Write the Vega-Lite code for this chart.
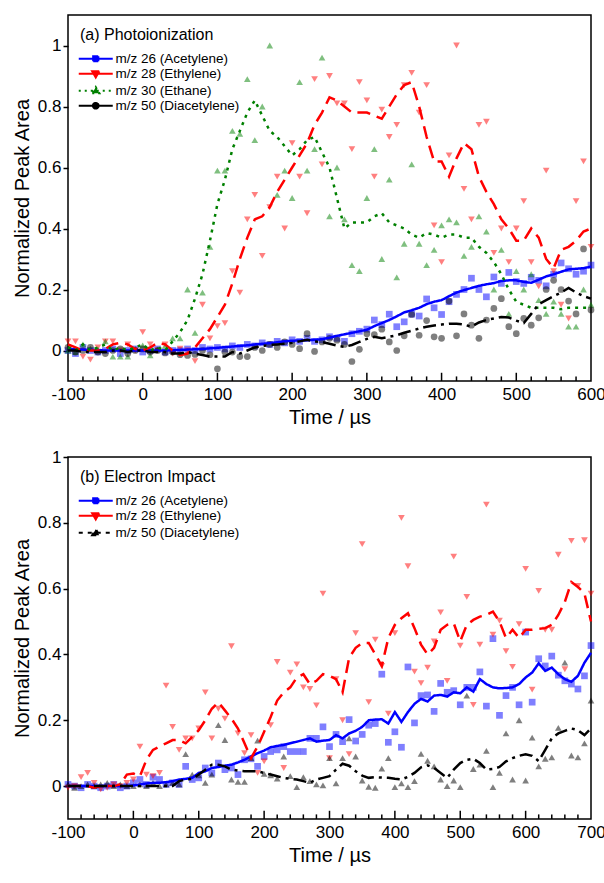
{
"$schema": "https://vega.github.io/schema/vega-lite/v6.json",
"padding": {"left": 11, "top": 14, "right": 0, "bottom": 0},
"config": {
  "font": "Liberation Sans",
  "view": {"stroke": "black", "strokeWidth": 1.5},
  "axis": {"grid": false, "domain": false, "labelFont": "Liberation Sans", "labelFontSize": 17, "labelColor": "black", "titleFont": "Liberation Sans", "titleFontSize": 20, "titleFontWeight": "normal", "titleColor": "black", "tickColor": "black", "tickWidth": 1.5},
  "legend": {"titleFont": "Liberation Sans", "titleFontSize": 16, "titleFontWeight": "normal", "titleColor": "black", "labelFont": "Liberation Sans", "labelFontSize": 13.5, "labelColor": "black", "symbolSize": 100, "symbolStrokeWidth": 2.2, "symbolOpacity": 1, "symbolOffset": 9, "labelOffset": 13, "rowPadding": 0, "titlePadding": 9, "orient": "top-left", "offset": 12, "padding": 0}
},
"datasets": {
"a_pts": [
{"t":-100,"ac":0,"et":0.03,"ea":0,"di":0.01},
{"t":-90,"ac":-0.01,"et":0.03,"ea":-0.005,"di":-0.005},
{"t":-80,"ac":0.01,"et":-0.02,"ea":0.02,"di":0},
{"t":-70,"ac":0,"et":-0.03,"ea":0.006,"di":0.01},
{"t":-60,"ac":-0.005,"et":0.01,"ea":0.004,"di":-0.005},
{"t":-50,"ac":0,"et":0.03,"ea":0.03,"di":-0.01},
{"t":-40,"ac":0.005,"et":0.03,"ea":-0.02,"di":0},
{"t":-30,"ac":-0.01,"et":0,"ea":-0.02,"di":0.005},
{"t":-20,"ac":0,"et":0.02,"ea":-0.02,"di":-0.01},
{"t":-10,"ac":0.005,"et":0,"ea":0.006,"di":0},
{"t":0,"ac":-0.005,"et":0.06,"ea":0.017,"di":0.005},
{"t":10,"ac":0,"et":0.02,"ea":-0.016,"di":-0.005},
{"t":20,"ac":0.005,"et":0,"ea":0.004,"di":0},
{"t":30,"ac":-0.005,"et":0.02,"ea":0.015,"di":-0.008},
{"t":40,"ac":0,"et":-0.01,"ea":0.04,"di":-0.005},
{"t":50,"ac":0,"et":0.006,"ea":0.04,"di":-0.014},
{"t":60,"ac":0.005,"et":0,"ea":0.2,"di":-0.016},
{"t":70,"ac":0,"et":-0.035,"ea":0.058,"di":-0.013},
{"t":80,"ac":0.01,"et":0.15,"ea":0.19,"di":0},
{"t":90,"ac":0.005,"et":0.04,"ea":0.34,"di":-0.014},
{"t":100,"ac":0.01,"et":0.08,"ea":0.59,"di":-0.06},
{"t":110,"ac":0.005,"et":0.09,"ea":0.59,"di":-0.005},
{"t":120,"ac":0.015,"et":0.26,"ea":0.72,"di":-0.005},
{"t":130,"ac":0.01,"et":0.19,"ea":0.71,"di":-0.02},
{"t":140,"ac":0.02,"et":0.43,"ea":0.89,"di":-0.02},
{"t":150,"ac":0.015,"et":0.51,"ea":0.69,"di":0.01},
{"t":160,"ac":0.025,"et":0.31,"ea":0.8,"di":0},
{"t":170,"ac":0.02,"et":0.47,"ea":1.0,"di":0.02},
{"t":180,"ac":0.03,"et":0.57,"ea":0.51,"di":0.01},
{"t":190,"ac":0.025,"et":0.4,"ea":0.59,"di":0.028},
{"t":200,"ac":0.035,"et":0.68,"ea":0.5,"di":0.02},
{"t":210,"ac":0.03,"et":0.57,"ea":0.88,"di":0.006},
{"t":220,"ac":0.04,"et":0.45,"ea":0.59,"di":0.055},
{"t":230,"ac":0.03,"et":0.89,"ea":0.66,"di":-0.003},
{"t":240,"ac":0.035,"et":0.61,"ea":0.96,"di":0.028},
{"t":250,"ac":0.045,"et":0.9,"ea":0.44,"di":0.04},
{"t":260,"ac":0.04,"et":0.81,"ea":0.6,"di":0.034},
{"t":270,"ac":0.03,"et":0.81,"ea":0.43,"di":0.02},
{"t":280,"ac":0.055,"et":0.66,"ea":0.28,"di":-0.036},
{"t":290,"ac":0.063,"et":0.88,"ea":0.26,"di":0.004},
{"t":300,"ac":0.07,"et":0.82,"ea":0.5,"di":0.055},
{"t":310,"ac":0.1,"et":0.57,"ea":0.66,"di":0.052},
{"t":320,"ac":0.085,"et":0.79,"ea":0.3,"di":0.07},
{"t":330,"ac":0.119,"et":0.7,"ea":0.56,"di":0.028},
{"t":340,"ac":0.078,"et":0.74,"ea":0.24,"di":0},
{"t":350,"ac":0.094,"et":0.87,"ea":0.35,"di":0.048},
{"t":360,"ac":0.119,"et":0.91,"ea":0.61,"di":0.118},
{"t":370,"ac":0.113,"et":0.78,"ea":0.35,"di":0.05},
{"t":380,"ac":0.169,"et":0.87,"ea":0.28,"di":0.098},
{"t":390,"ac":0.14,"et":0.41,"ea":0.33,"di":0.045},
{"t":400,"ac":0.118,"et":0.29,"ea":0.41,"di":0.04},
{"t":410,"ac":0.16,"et":0.64,"ea":0.43,"di":0.162},
{"t":420,"ac":0.184,"et":1.0,"ea":0.42,"di":0.048},
{"t":430,"ac":0.2,"et":0.53,"ea":0.31,"di":0.12},
{"t":440,"ac":0.237,"et":0.43,"ea":0.34,"di":0.083},
{"t":450,"ac":0.2,"et":0.74,"ea":0.44,"di":0.04},
{"t":460,"ac":0.176,"et":0.75,"ea":0.39,"di":0.1},
{"t":470,"ac":0.241,"et":0.32,"ea":0.2,"di":0.138},
{"t":480,"ac":0.22,"et":0.4,"ea":0.33,"di":0.17},
{"t":490,"ac":0.256,"et":0.29,"ea":0.12,"di":0.078},
{"t":500,"ac":0.226,"et":0.4,"ea":0.26,"di":0.055},
{"t":510,"ac":0.22,"et":0.49,"ea":0.2,"di":0.105},
{"t":520,"ac":0.24,"et":0.29,"ea":0.25,"di":0.083},
{"t":530,"ac":0.23,"et":0.21,"ea":0.165,"di":0.107},
{"t":540,"ac":0.212,"et":0.59,"ea":0.12,"di":0.2},
{"t":550,"ac":0.25,"et":0.26,"ea":0.16,"di":0.23},
{"t":560,"ac":0.287,"et":0.15,"ea":0.12,"di":0.2},
{"t":570,"ac":0.268,"et":0.105,"ea":0.078,"di":0.162},
{"t":580,"ac":0.25,"et":0.49,"ea":0.078,"di":0.12},
{"t":590,"ac":0.26,"et":0.62,"ea":0.2,"di":0.333},
{"t":600,"ac":0.28,"et":0.34,"ea":0.15,"di":0.133}
],
"a_line": [
{"t":-100,"ac":0.005,"et":0.02,"ea":0.01,"di":0},
{"t":-90,"ac":0.004,"et":0.01,"ea":0,"di":0},
{"t":-80,"ac":0.003,"et":0,"ea":0.02,"di":-0.005},
{"t":-70,"ac":0.002,"et":0,"ea":0,"di":-0.005},
{"t":-60,"ac":0.001,"et":0,"ea":0.01,"di":-0.005},
{"t":-50,"ac":0,"et":0.005,"ea":0.02,"di":-0.005},
{"t":-40,"ac":0,"et":0.02,"ea":0,"di":0},
{"t":-30,"ac":0,"et":0.025,"ea":0.01,"di":0},
{"t":-20,"ac":0,"et":0.02,"ea":0,"di":-0.005},
{"t":-10,"ac":0,"et":0.005,"ea":0.01,"di":0},
{"t":0,"ac":0,"et":0,"ea":0.02,"di":0},
{"t":10,"ac":0,"et":0.01,"ea":0,"di":-0.005},
{"t":20,"ac":0,"et":0.025,"ea":0.01,"di":-0.005},
{"t":30,"ac":0,"et":0.02,"ea":0,"di":-0.005},
{"t":40,"ac":0.001,"et":0,"ea":0.03,"di":-0.01},
{"t":50,"ac":0.002,"et":-0.015,"ea":0.06,"di":-0.01},
{"t":60,"ac":0.003,"et":-0.01,"ea":0.1,"di":-0.005},
{"t":70,"ac":0.004,"et":0.01,"ea":0.17,"di":-0.01},
{"t":80,"ac":0.005,"et":0.04,"ea":0.25,"di":-0.015},
{"t":90,"ac":0.007,"et":0.07,"ea":0.36,"di":-0.02},
{"t":100,"ac":0.009,"et":0.11,"ea":0.48,"di":-0.02},
{"t":110,"ac":0.011,"et":0.15,"ea":0.56,"di":-0.02},
{"t":120,"ac":0.013,"et":0.22,"ea":0.66,"di":-0.005},
{"t":130,"ac":0.015,"et":0.3,"ea":0.72,"di":-0.01},
{"t":140,"ac":0.017,"et":0.37,"ea":0.78,"di":0},
{"t":150,"ac":0.02,"et":0.43,"ea":0.82,"di":0.01},
{"t":160,"ac":0.022,"et":0.44,"ea":0.77,"di":0.015},
{"t":170,"ac":0.024,"et":0.47,"ea":0.72,"di":0.018},
{"t":180,"ac":0.027,"et":0.52,"ea":0.7,"di":0.02},
{"t":190,"ac":0.03,"et":0.56,"ea":0.67,"di":0.022},
{"t":200,"ac":0.032,"et":0.6,"ea":0.64,"di":0.025},
{"t":210,"ac":0.033,"et":0.64,"ea":0.66,"di":0.03},
{"t":220,"ac":0.034,"et":0.68,"ea":0.69,"di":0.035},
{"t":230,"ac":0.035,"et":0.74,"ea":0.7,"di":0.03},
{"t":240,"ac":0.037,"et":0.78,"ea":0.65,"di":0.028},
{"t":250,"ac":0.042,"et":0.83,"ea":0.6,"di":0.022},
{"t":260,"ac":0.048,"et":0.82,"ea":0.5,"di":0.016},
{"t":270,"ac":0.053,"et":0.8,"ea":0.4,"di":0.012},
{"t":280,"ac":0.058,"et":0.78,"ea":0.42,"di":0.018},
{"t":290,"ac":0.063,"et":0.78,"ea":0.42,"di":0.028},
{"t":300,"ac":0.068,"et":0.78,"ea":0.42,"di":0.038},
{"t":310,"ac":0.08,"et":0.77,"ea":0.44,"di":0.045},
{"t":320,"ac":0.09,"et":0.76,"ea":0.45,"di":0.04},
{"t":330,"ac":0.1,"et":0.8,"ea":0.42,"di":0.045},
{"t":340,"ac":0.112,"et":0.84,"ea":0.41,"di":0.05},
{"t":350,"ac":0.125,"et":0.87,"ea":0.4,"di":0.058},
{"t":360,"ac":0.132,"et":0.88,"ea":0.38,"di":0.065},
{"t":370,"ac":0.14,"et":0.8,"ea":0.37,"di":0.072},
{"t":380,"ac":0.152,"et":0.7,"ea":0.385,"di":0.078},
{"t":390,"ac":0.16,"et":0.62,"ea":0.38,"di":0.082},
{"t":400,"ac":0.165,"et":0.62,"ea":0.37,"di":0.085},
{"t":410,"ac":0.178,"et":0.57,"ea":0.38,"di":0.088},
{"t":420,"ac":0.19,"et":0.63,"ea":0.38,"di":0.088},
{"t":430,"ac":0.198,"et":0.68,"ea":0.37,"di":0.085},
{"t":440,"ac":0.205,"et":0.66,"ea":0.37,"di":0.078},
{"t":450,"ac":0.212,"et":0.57,"ea":0.34,"di":0.092},
{"t":460,"ac":0.217,"et":0.52,"ea":0.32,"di":0.1},
{"t":470,"ac":0.221,"et":0.48,"ea":0.29,"di":0.105},
{"t":480,"ac":0.228,"et":0.43,"ea":0.25,"di":0.11},
{"t":490,"ac":0.23,"et":0.4,"ea":0.2,"di":0.108},
{"t":500,"ac":0.23,"et":0.36,"ea":0.16,"di":0.098},
{"t":510,"ac":0.225,"et":0.36,"ea":0.15,"di":0.09},
{"t":520,"ac":0.222,"et":0.4,"ea":0.14,"di":0.12},
{"t":530,"ac":0.232,"et":0.37,"ea":0.14,"di":0.152},
{"t":540,"ac":0.243,"et":0.3,"ea":0.14,"di":0.165},
{"t":550,"ac":0.25,"et":0.27,"ea":0.14,"di":0.178},
{"t":560,"ac":0.258,"et":0.33,"ea":0.135,"di":0.19},
{"t":570,"ac":0.266,"et":0.34,"ea":0.14,"di":0.205},
{"t":580,"ac":0.268,"et":0.36,"ea":0.14,"di":0.19},
{"t":590,"ac":0.27,"et":0.39,"ea":0.14,"di":0.178},
{"t":600,"ac":0.275,"et":0.4,"ea":0.14,"di":0.17}
],
"b_pts": [
{"t":-100,"ac":0.005,"et":-0.005,"di":0.005},
{"t":-90,"ac":0,"et":0,"di":-0.005},
{"t":-80,"ac":-0.005,"et":0.027,"di":0},
{"t":-70,"ac":0.005,"et":0.04,"di":0.005},
{"t":-60,"ac":0,"et":0.01,"di":0},
{"t":-50,"ac":-0.005,"et":-0.01,"di":0.005},
{"t":-40,"ac":0,"et":-0.005,"di":0.01},
{"t":-30,"ac":0.005,"et":0.005,"di":0},
{"t":-20,"ac":-0.005,"et":0,"di":0.005},
{"t":-10,"ac":0,"et":0.01,"di":0},
{"t":0,"ac":0.01,"et":0.02,"di":0},
{"t":10,"ac":0.02,"et":0.12,"di":0.005},
{"t":20,"ac":0.005,"et":0.035,"di":0},
{"t":30,"ac":0.027,"et":0.03,"di":0.01},
{"t":40,"ac":0.02,"et":0.04,"di":0},
{"t":50,"ac":0.005,"et":0.305,"di":0.005},
{"t":60,"ac":0.01,"et":0.18,"di":0.01},
{"t":70,"ac":0.005,"et":0.11,"di":0.005},
{"t":80,"ac":0.06,"et":0.145,"di":0.097},
{"t":90,"ac":0.02,"et":0.145,"di":0.035},
{"t":100,"ac":0.025,"et":0.175,"di":0.033},
{"t":110,"ac":0.055,"et":0.285,"di":0.01},
{"t":120,"ac":0.04,"et":0.145,"di":0.035},
{"t":130,"ac":0.07,"et":0.235,"di":0.185},
{"t":140,"ac":0.05,"et":0.205,"di":0.14},
{"t":150,"ac":0.055,"et":0.425,"di":0.02},
{"t":160,"ac":0.035,"et":0.16,"di":0.013},
{"t":170,"ac":0.08,"et":0.1,"di":0.013},
{"t":180,"ac":0.083,"et":0.155,"di":0.085},
{"t":190,"ac":0.06,"et":0.04,"di":0.138},
{"t":200,"ac":0.09,"et":0.075,"di":0.037},
{"t":210,"ac":0.105,"et":0.185,"di":0.033},
{"t":220,"ac":0.11,"et":0.377,"di":0.023},
{"t":230,"ac":0.12,"et":0.055,"di":0.09},
{"t":240,"ac":0.105,"et":0.345,"di":0.03},
{"t":250,"ac":0.105,"et":0.37,"di":-0.003},
{"t":260,"ac":0.105,"et":0.3,"di":0.027},
{"t":270,"ac":0.145,"et":0.295,"di":0.015},
{"t":280,"ac":0.145,"et":0.245,"di":0.005},
{"t":290,"ac":0.18,"et":0.585,"di":0.002},
{"t":300,"ac":0.12,"et":0.085,"di":0.085},
{"t":310,"ac":0.157,"et":0.325,"di":0.008},
{"t":320,"ac":0.135,"et":0.2,"di":0.085},
{"t":330,"ac":0.202,"et":0.097,"di":0.145},
{"t":340,"ac":0.137,"et":0.465,"di":0.09},
{"t":350,"ac":0.157,"et":0.735,"di":0.017},
{"t":360,"ac":0.185,"et":0.255,"di":-0.002},
{"t":370,"ac":0.19,"et":0.445,"di":-0.005},
{"t":380,"ac":0.34,"et":0.365,"di":0.053},
{"t":390,"ac":0.133,"et":0.22,"di":0.085},
{"t":400,"ac":0.165,"et":0.465,"di":-0.003},
{"t":410,"ac":0.118,"et":0.815,"di":0.008},
{"t":420,"ac":0.362,"et":0.668,"di":-0.003},
{"t":430,"ac":0.192,"et":0.348,"di":0.015},
{"t":440,"ac":0.275,"et":0.313,"di":0.098},
{"t":450,"ac":0.277,"et":0.36,"di":0.077},
{"t":460,"ac":0.227,"et":0.44,"di":0.06},
{"t":470,"ac":0.312,"et":0.528,"di":0.02},
{"t":480,"ac":0.285,"et":0.32,"di":0},
{"t":490,"ac":0.29,"et":0.697,"di":0.017},
{"t":500,"ac":0.247,"et":0.427,"di":-0.003},
{"t":510,"ac":0.3,"et":0.575,"di":0.275},
{"t":520,"ac":0.3,"et":0.247,"di":0.052},
{"t":530,"ac":0.347,"et":0.43,"di":0.065},
{"t":540,"ac":0.243,"et":0.855,"di":0.107},
{"t":550,"ac":0.448,"et":0.46,"di":-0.003},
{"t":560,"ac":0.215,"et":0.503,"di":0.04},
{"t":570,"ac":0.275,"et":0.41,"di":0.16},
{"t":580,"ac":0.3,"et":0.362,"di":0.02},
{"t":590,"ac":0.247,"et":0.492,"di":0.2},
{"t":600,"ac":0.468,"et":0.66,"di":0.017},
{"t":610,"ac":0.255,"et":0.293,"di":0.147},
{"t":620,"ac":0.387,"et":0.593,"di":0.06},
{"t":630,"ac":0.365,"et":0.475,"di":0.083},
{"t":640,"ac":0.395,"et":0.475,"di":0.087},
{"t":650,"ac":0.337,"et":0.703,"di":0.177},
{"t":660,"ac":0.32,"et":0.355,"di":0.375},
{"t":670,"ac":0.31,"et":0.745,"di":0.093},
{"t":680,"ac":0.295,"et":0.608,"di":0.087},
{"t":690,"ac":0.335,"et":0.747,"di":0.13},
{"t":700,"ac":0.427,"et":0.585,"di":0.26}
],
"b_line": [
{"t":-100,"ac":0,"et":0,"di":0},
{"t":-90,"ac":0,"et":0,"di":0},
{"t":-80,"ac":0,"et":0,"di":0},
{"t":-70,"ac":0,"et":0,"di":0},
{"t":-60,"ac":0,"et":-0.005,"di":0},
{"t":-50,"ac":0,"et":0,"di":0},
{"t":-40,"ac":0,"et":0,"di":0},
{"t":-30,"ac":0,"et":0,"di":0},
{"t":-20,"ac":0,"et":0.005,"di":0},
{"t":-10,"ac":0,"et":0.035,"di":0},
{"t":0,"ac":0.002,"et":0.038,"di":0},
{"t":10,"ac":0.005,"et":0.03,"di":0},
{"t":20,"ac":0.008,"et":0.08,"di":0},
{"t":30,"ac":0.01,"et":0.11,"di":0},
{"t":40,"ac":0.01,"et":0.12,"di":0},
{"t":50,"ac":0.012,"et":0.13,"di":0},
{"t":60,"ac":0.015,"et":0.14,"di":0},
{"t":70,"ac":0.02,"et":0.14,"di":0.015},
{"t":80,"ac":0.022,"et":0.13,"di":0.02},
{"t":90,"ac":0.025,"et":0.15,"di":0.022},
{"t":100,"ac":0.04,"et":0.17,"di":0.035},
{"t":110,"ac":0.045,"et":0.2,"di":0.05},
{"t":120,"ac":0.055,"et":0.235,"di":0.065},
{"t":130,"ac":0.058,"et":0.255,"di":0.065},
{"t":140,"ac":0.062,"et":0.23,"di":0.06},
{"t":150,"ac":0.065,"et":0.205,"di":0.05},
{"t":160,"ac":0.072,"et":0.175,"di":0.047},
{"t":170,"ac":0.08,"et":0.13,"di":0.045},
{"t":180,"ac":0.09,"et":0.085,"di":0.045},
{"t":190,"ac":0.1,"et":0.12,"di":0.045},
{"t":200,"ac":0.108,"et":0.165,"di":0.04},
{"t":210,"ac":0.118,"et":0.21,"di":0.035},
{"t":220,"ac":0.122,"et":0.26,"di":0.03},
{"t":230,"ac":0.125,"et":0.285,"di":0.025},
{"t":240,"ac":0.13,"et":0.3,"di":0.022},
{"t":250,"ac":0.135,"et":0.33,"di":0.02},
{"t":260,"ac":0.14,"et":0.34,"di":0.015},
{"t":270,"ac":0.145,"et":0.31,"di":0.01},
{"t":280,"ac":0.135,"et":0.32,"di":0.02},
{"t":290,"ac":0.138,"et":0.34,"di":0.025},
{"t":300,"ac":0.14,"et":0.335,"di":0.03},
{"t":310,"ac":0.155,"et":0.325,"di":0.05},
{"t":320,"ac":0.145,"et":0.285,"di":0.068},
{"t":330,"ac":0.16,"et":0.39,"di":0.062},
{"t":340,"ac":0.168,"et":0.42,"di":0.045},
{"t":350,"ac":0.18,"et":0.435,"di":0.032},
{"t":360,"ac":0.2,"et":0.435,"di":0.025},
{"t":370,"ac":0.202,"et":0.4,"di":0.027},
{"t":380,"ac":0.203,"et":0.365,"di":0.026},
{"t":390,"ac":0.19,"et":0.45,"di":0.025},
{"t":400,"ac":0.225,"et":0.49,"di":0.022},
{"t":410,"ac":0.195,"et":0.51,"di":0.02},
{"t":420,"ac":0.225,"et":0.525,"di":0.028},
{"t":430,"ac":0.25,"et":0.48,"di":0.04},
{"t":440,"ac":0.265,"et":0.43,"di":0.057},
{"t":450,"ac":0.257,"et":0.4,"di":0.063},
{"t":460,"ac":0.275,"et":0.42,"di":0.055},
{"t":470,"ac":0.277,"et":0.475,"di":0.04},
{"t":480,"ac":0.272,"et":0.49,"di":0.025},
{"t":490,"ac":0.285,"et":0.495,"di":0.05},
{"t":500,"ac":0.282,"et":0.44,"di":0.07},
{"t":510,"ac":0.3,"et":0.49,"di":0.08},
{"t":520,"ac":0.287,"et":0.505,"di":0.083},
{"t":530,"ac":0.325,"et":0.515,"di":0.07},
{"t":540,"ac":0.31,"et":0.52,"di":0.05},
{"t":550,"ac":0.3,"et":0.53,"di":0.052},
{"t":560,"ac":0.297,"et":0.5,"di":0.058},
{"t":570,"ac":0.298,"et":0.45,"di":0.075},
{"t":580,"ac":0.3,"et":0.475,"di":0.085},
{"t":590,"ac":0.31,"et":0.45,"di":0.092},
{"t":600,"ac":0.33,"et":0.475,"di":0.097},
{"t":610,"ac":0.345,"et":0.475,"di":0.092},
{"t":620,"ac":0.373,"et":0.478,"di":0.076},
{"t":630,"ac":0.35,"et":0.48,"di":0.11},
{"t":640,"ac":0.36,"et":0.49,"di":0.145},
{"t":650,"ac":0.34,"et":0.52,"di":0.16},
{"t":660,"ac":0.325,"et":0.56,"di":0.168},
{"t":670,"ac":0.317,"et":0.62,"di":0.175},
{"t":680,"ac":0.335,"et":0.605,"di":0.17},
{"t":690,"ac":0.375,"et":0.585,"di":0.155},
{"t":700,"ac":0.405,"et":0.5,"di":0.175}
],
"a_major": [{"t":0},{"t":100},{"t":200},{"t":300},{"t":400},{"t":500}],
"a_minor": [{"t":-80},{"t":-60},{"t":-40},{"t":-20},{"t":20},{"t":40},{"t":60},{"t":80},{"t":120},{"t":140},{"t":160},{"t":180},{"t":220},{"t":240},{"t":260},{"t":280},{"t":320},{"t":340},{"t":360},{"t":380},{"t":420},{"t":440},{"t":460},{"t":480},{"t":520},{"t":540},{"t":560},{"t":580}],
"b_major": [{"t":0},{"t":100},{"t":200},{"t":300},{"t":400},{"t":500},{"t":600}],
"b_minor": [{"t":-80},{"t":-60},{"t":-40},{"t":-20},{"t":20},{"t":40},{"t":60},{"t":80},{"t":120},{"t":140},{"t":160},{"t":180},{"t":220},{"t":240},{"t":260},{"t":280},{"t":320},{"t":340},{"t":360},{"t":380},{"t":420},{"t":440},{"t":460},{"t":480},{"t":520},{"t":540},{"t":560},{"t":580},{"t":620},{"t":640},{"t":660},{"t":680}]
},
"spacing": 19,
"resolve": {"scale": {"color": "independent", "shape": "independent", "strokeDash": "independent", "fill": "independent", "stroke": "independent"}},
"vconcat": [
{
  "width": 523, "height": 366,
  "resolve": {"scale": {"shape": "independent", "strokeDash": "independent", "fill": "independent", "stroke": "independent"}, "axis": {"x": "independent"}},
  "layer": [
    {
      "data": {"name": "a_pts"},
      "transform": [{"fold": ["ac", "et", "ea", "di"], "as": ["s", "v"]}],
      "mark": {"type": "point", "filled": true, "opacity": 0.5, "size": 45},
      "encoding": {
        "x": {"field": "t", "type": "quantitative", "scale": {"domain": [-100, 600], "nice": false, "zero": false},
          "axis": {"orient": "bottom", "title": "Time / µs", "values": [-100, 0, 100, 200, 300, 400, 500, 600],
            "labelExpr": "'' + datum.value", "ticks": false, "tickSize": 0,
            "labelPadding": 5, "labelFlush": false, "labelOverlap": false, "titlePadding": 5}},
        "y": {"field": "v", "type": "quantitative", "scale": {"domain": [-0.1, 1.1], "nice": false, "zero": false},
          "axis": {"title": "Normalized Peak Area", "values": [0, 0.2, 0.4, 0.6, 0.8, 1], "format": "~g", "tickSize": 5, "tickColor": "black", "tickWidth": 1.5, "labelPadding": 2, "titlePadding": 5}},
        "color": {"field": "s", "type": "nominal",
          "scale": {"domain": ["ac", "et", "ea", "di"], "range": ["#0000ff", "#ff0000", "#008000", "#000000"]},
          "legend": null},
        "shape": {"field": "s", "type": "nominal",
          "scale": {"domain": ["ac", "et", "ea", "di"], "range": ["square", "triangle-down", "triangle-up", "circle"]},
          "legend": null}
      }
    },
    {
      "data": {"name": "a_line"},
      "transform": [{"fold": ["ac", "et", "ea", "di"], "as": ["s", "v"]}],
      "mark": {"type": "line", "strokeWidth": 2.5},
      "encoding": {
        "x": {"field": "t", "type": "quantitative", "axis": null},
        "y": {"field": "v", "type": "quantitative"},
        "color": {"field": "s", "type": "nominal", "legend": null},
        "strokeDash": {"field": "s", "type": "nominal",
          "scale": {"domain": ["ac", "et", "ea", "di"], "range": [[1, 0], [13, 7], [3, 5], [13, 5, 3, 5]]},
          "legend": null}
      }
    },
    {
      "data": {"name": "a_major"},
      "mark": {"type": "rule", "color": "black", "strokeWidth": 1.5},
      "encoding": {
        "x": {"field": "t", "type": "quantitative", "axis": null},
        "y": {"datum": -0.1},
        "y2": {"datum": -0.073}
      }
    },
    {
      "data": {"name": "a_minor"},
      "mark": {"type": "rule", "color": "black", "strokeWidth": 1.5},
      "encoding": {
        "x": {"field": "t", "type": "quantitative", "axis": null},
        "y": {"datum": -0.1},
        "y2": {"datum": -0.085}
      }
    },
    {
      "data": {"values": []},
      "mark": {"type": "point", "filled": true, "opacity": 1, "size": 100},
      "encoding": {
        "x": {"field": "t", "type": "quantitative", "axis": null},
        "y": {"field": "v", "type": "quantitative"},
        "fill": {"field": "lab", "type": "nominal",
          "scale": {"domain": ["m/z 26 (Acetylene)", "m/z 28 (Ethylene)", "m/z 30 (Ethane)", "m/z 50 (Diacetylene)"], "range": ["#0000ff", "#ff0000", "#008000", "#000000"]},
          "legend": {"title": "(a) Photoionization"}},
        "stroke": {"field": "lab", "type": "nominal",
          "scale": {"domain": ["m/z 26 (Acetylene)", "m/z 28 (Ethylene)", "m/z 30 (Ethane)", "m/z 50 (Diacetylene)"], "range": ["#0000ff", "#ff0000", "#008000", "#000000"]},
          "legend": {"title": "(a) Photoionization"}},
        "shape": {"field": "lab", "type": "nominal",
          "scale": {"domain": ["m/z 26 (Acetylene)", "m/z 28 (Ethylene)", "m/z 30 (Ethane)", "m/z 50 (Diacetylene)"],
            "range": ["M-3.4,0H3.4M-0.5,-0.5H0.5V0.5H-0.5Z", "M-3.4,0H3.4M-0.7,-0.5H0.7L0,0.7Z", "M-3.4,0H3.4M-0.7,0.5H0.7L0,-0.7Z", "M-3.4,0H3.4M0.55,0A0.55,0.55,0,1,1,-0.55,0A0.55,0.55,0,1,1,0.55,0Z"]},
          "legend": {"title": "(a) Photoionization"}},
        "strokeDash": {"field": "lab", "type": "nominal",
          "scale": {"domain": ["m/z 26 (Acetylene)", "m/z 28 (Ethylene)", "m/z 30 (Ethane)", "m/z 50 (Diacetylene)"], "range": [[1, 0], [1, 0], [2, 4], [1, 0]]},
          "legend": {"title": "(a) Photoionization"}}
      }
    }
  ]
},
{
  "width": 523, "height": 362,
  "resolve": {"scale": {"shape": "independent", "strokeDash": "independent", "fill": "independent", "stroke": "independent"}, "axis": {"x": "independent"}},
  "layer": [
    {
      "data": {"name": "b_pts"},
      "transform": [{"fold": ["ac", "et", "di"], "as": ["s", "v"]}],
      "mark": {"type": "point", "filled": true, "opacity": 0.5, "size": 45},
      "encoding": {
        "x": {"field": "t", "type": "quantitative", "scale": {"domain": [-100, 700], "nice": false, "zero": false},
          "axis": {"orient": "bottom", "title": "Time / µs", "values": [-100, 0, 100, 200, 300, 400, 500, 600, 700],
            "labelExpr": "'' + datum.value", "ticks": false, "tickSize": 0,
            "labelPadding": 5, "labelFlush": false, "labelOverlap": false, "titlePadding": 5}},
        "y": {"field": "v", "type": "quantitative", "scale": {"domain": [-0.1, 1.0], "nice": false, "zero": false},
          "axis": {"title": "Normalized Peak Area", "values": [0, 0.2, 0.4, 0.6, 0.8, 1], "format": "~g", "tickSize": 5, "tickColor": "black", "tickWidth": 1.5, "labelPadding": 2, "titlePadding": 5}},
        "color": {"field": "s", "type": "nominal",
          "scale": {"domain": ["ac", "et", "di"], "range": ["#0000ff", "#ff0000", "#000000"]},
          "legend": null},
        "shape": {"field": "s", "type": "nominal",
          "scale": {"domain": ["ac", "et", "di"], "range": ["square", "triangle-down", "triangle-up"]},
          "legend": null}
      }
    },
    {
      "data": {"name": "b_line"},
      "transform": [{"fold": ["ac", "et", "di"], "as": ["s", "v"]}],
      "mark": {"type": "line", "strokeWidth": 2.5},
      "encoding": {
        "x": {"field": "t", "type": "quantitative", "axis": null},
        "y": {"field": "v", "type": "quantitative"},
        "color": {"field": "s", "type": "nominal", "legend": null},
        "strokeDash": {"field": "s", "type": "nominal",
          "scale": {"domain": ["ac", "et", "di"], "range": [[1, 0], [13, 7], [13, 5, 3, 5]]},
          "legend": null}
      }
    },
    {
      "data": {"name": "b_major"},
      "mark": {"type": "rule", "color": "black", "strokeWidth": 1.5},
      "encoding": {
        "x": {"field": "t", "type": "quantitative", "axis": null},
        "y": {"datum": -0.1},
        "y2": {"datum": -0.075}
      }
    },
    {
      "data": {"name": "b_minor"},
      "mark": {"type": "rule", "color": "black", "strokeWidth": 1.5},
      "encoding": {
        "x": {"field": "t", "type": "quantitative", "axis": null},
        "y": {"datum": -0.1},
        "y2": {"datum": -0.086}
      }
    },
    {
      "data": {"values": []},
      "mark": {"type": "point", "filled": true, "opacity": 1, "size": 100},
      "encoding": {
        "x": {"field": "t", "type": "quantitative", "axis": null},
        "y": {"field": "v", "type": "quantitative"},
        "fill": {"field": "lab", "type": "nominal",
          "scale": {"domain": ["m/z 26 (Acetylene)", "m/z 28 (Ethylene)", "m/z 50 (Diacetylene)"], "range": ["#0000ff", "#ff0000", "#000000"]},
          "legend": {"title": "(b) Electron Impact"}},
        "stroke": {"field": "lab", "type": "nominal",
          "scale": {"domain": ["m/z 26 (Acetylene)", "m/z 28 (Ethylene)", "m/z 50 (Diacetylene)"], "range": ["#0000ff", "#ff0000", "#000000"]},
          "legend": {"title": "(b) Electron Impact"}},
        "shape": {"field": "lab", "type": "nominal",
          "scale": {"domain": ["m/z 26 (Acetylene)", "m/z 28 (Ethylene)", "m/z 50 (Diacetylene)"],
            "range": ["M-3.4,0H3.4M-0.5,-0.5H0.5V0.5H-0.5Z", "M-3.4,0H3.4M-0.7,-0.5H0.7L0,0.7Z", "M-3.4,0H3.4M-0.7,0.5H0.7L0,-0.7Z"]},
          "legend": {"title": "(b) Electron Impact"}},
        "strokeDash": {"field": "lab", "type": "nominal",
          "scale": {"domain": ["m/z 26 (Acetylene)", "m/z 28 (Ethylene)", "m/z 50 (Diacetylene)"], "range": [[1, 0], [1, 0], [4, 5]]},
          "legend": {"title": "(b) Electron Impact"}}
      }
    }
  ]
}
]
}
